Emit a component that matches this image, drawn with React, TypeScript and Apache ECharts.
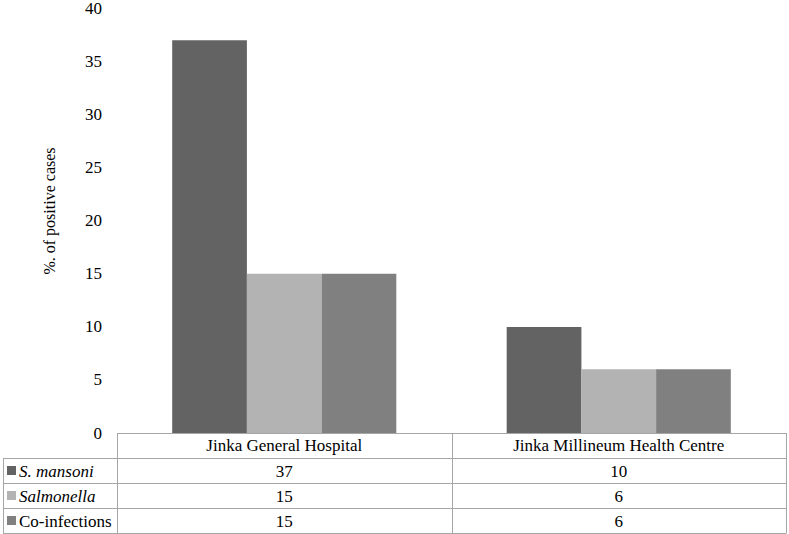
import React, { useEffect, useRef } from "react";
import * as echarts from "echarts";

const categories = ["Jinka General Hospital", "Jinka Millineum Health Centre"];
const seriesNames = ["S. mansoni", "Salmonella", "Co-infections"];
const italicNames = [true, true, false];
const sMansoni = [37, 10];
const salmonella = [15, 6];
const coInfections = [15, 6];
const colors = ["#636363", "#b3b3b3", "#808080"];
const yTicks = { min: 0, max: 40, interval: 5 };
const yTitle = "%. of positive cases";

const W = 789;
const H = 534;
const GRID_L = 117;
const GRID_R = 786;
const GRID_T = 7;
const GRID_B = 433;
const ROW_H = 25;
const TABLE_LEFT = 3;
const FONT = "Liberation Serif, Times New Roman, serif";
const FS = 17;
const BORDER = "#a6a6a6";

export default function App() {
  const ref = useRef<HTMLDivElement>(null);
  useEffect(() => {
    if (!ref.current) return;
    const chart = echarts.init(ref.current, undefined, { renderer: "svg" });
    const values = [sMansoni, salmonella, coInfections];
    const n = categories.length;
    const colW = (GRID_R - GRID_L) / n;
    const graphics: any[] = [];
    const line = (x1: number, y1: number, x2: number, y2: number) => ({
      type: "line",
      shape: { x1, y1, x2, y2 },
      style: { stroke: BORDER, lineWidth: 1 },
      silent: true,
    });
    const bottom = GRID_B + ROW_H * (seriesNames.length + 1);
    graphics.push(line(GRID_L, GRID_B + 0.5, GRID_R, GRID_B + 0.5));
    for (let r = 1; r <= seriesNames.length + 1; r++) {
      const y = GRID_B + ROW_H * r + 0.5;
      graphics.push(line(TABLE_LEFT, y, GRID_R, y));
    }
    graphics.push(line(TABLE_LEFT + 0.5, GRID_B + ROW_H, TABLE_LEFT + 0.5, bottom + 0.5));
    for (let c = 0; c <= n; c++) {
      const x = Math.round(GRID_L + colW * c) + 0.5;
      graphics.push(line(x, GRID_B, x, bottom + 0.5));
    }
    seriesNames.forEach((name, s) => {
      const cy = GRID_B + ROW_H * (s + 1) + ROW_H / 2;
      graphics.push({
        type: "rect",
        shape: { x: 7, y: cy - 4.5, width: 9, height: 9 },
        style: { fill: colors[s] },
        silent: true,
      });
      graphics.push({
        type: "text",
        x: 19,
        y: cy + 1,
        style: {
          text: name,
          fontFamily: FONT,
          fontSize: FS,
          fontStyle: italicNames[s] ? "italic" : "normal",
          fill: "#000",
          verticalAlign: "middle",
          align: "left",
        },
        silent: true,
      });
      values[s].forEach((v, c) => {
        graphics.push({
          type: "text",
          x: GRID_L + colW * (c + 0.5),
          y: cy + 1,
          style: {
            text: String(v),
            fontFamily: FONT,
            fontSize: FS,
            fill: "#000",
            verticalAlign: "middle",
            align: "center",
          },
          silent: true,
        });
      });
    });
    graphics.push({
      type: "text",
      x: 49,
      y: 211,
      rotation: Math.PI / 2,
      style: {
        text: yTitle,
        fontFamily: FONT,
        fontSize: 16,
        fill: "#000",
        align: "center",
        verticalAlign: "middle",
      },
      silent: true,
    });

    chart.setOption({
      animation: false,
      grid: { left: GRID_L, right: W - GRID_R, top: GRID_T, bottom: H - GRID_B, containLabel: false },
      xAxis: {
        type: "category",
        data: categories,
        axisLine: { show: false },
        axisTick: { show: false },
        axisLabel: {
          fontFamily: FONT,
          fontSize: FS,
          color: "#000",
          margin: 4,
          interval: 0,
        },
      },
      yAxis: {
        type: "value",
        min: yTicks.min,
        max: yTicks.max,
        interval: yTicks.interval,
        axisLine: { show: false },
        axisTick: { show: false },
        splitLine: { show: false },
        axisLabel: { fontFamily: FONT, fontSize: FS, color: "#000", margin: 15 },
      },
      series: seriesNames.map((name, s) => ({
        name,
        type: "bar",
        data: values[s],
        itemStyle: { color: colors[s] },
        barGap: "0%",
        barCategoryGap: "33%",
      })),
      graphic: graphics,
    });
    return () => chart.dispose();
  }, []);
  return (
    <div
      ref={ref}
      style={{ position: "fixed", left: 0, top: 0, width: W, height: H, background: "#fff" }}
    />
  );
}
